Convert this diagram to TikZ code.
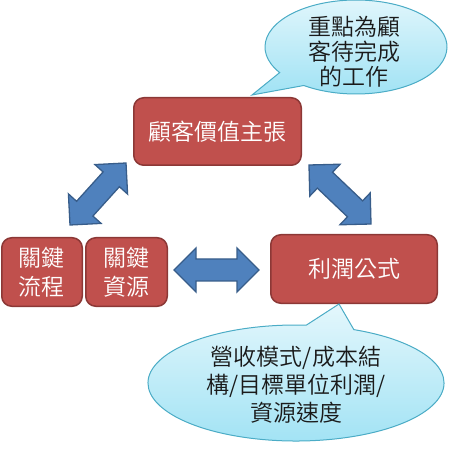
\documentclass[tikz,border=0pt]{standalone}
\usepackage{fontspec}
\newfontfamily\cjk{Noto Sans CJK TC DemiLight}
\usetikzlibrary{calc}
\definecolor{boxfill}{HTML}{C0504D}
\definecolor{boxline}{HTML}{8C3836}
\definecolor{arrfill}{HTML}{4F81BD}
\definecolor{arrline}{HTML}{385D8A}
\definecolor{calltop}{HTML}{E4F7FC}
\definecolor{callbot}{HTML}{9FE2F4}
\definecolor{callline}{HTML}{4BACC6}
\definecolor{calltext}{HTML}{1A1A1A}
\tikzset{
  redbox/.style={draw=boxline, fill=boxfill, line width=1.5pt, rounded corners=10pt,
    inner sep=0pt, text=white, align=center, font=\cjk\fontsize{23}{29}\selectfont},
  bluearrow/.style={draw=arrline, fill=arrfill, line width=1.3pt, line join=miter},
  callout/.style={draw=callline, line width=1pt, top color=calltop, bottom color=callbot},
  callshadow/.style={fill=black, opacity=0.12},
  calltxt/.style={text=calltext, align=center, inner sep=0pt},
}
\newcommand\mydoublearrow[2]{%
  \path let \p1=($(#2)-(#1)$) in \pgfextra{%
    \pgfmathsetmacro\dal{veclen(\x1,\y1)}%
    \pgfmathsetmacro\daa{atan2(\y1,\x1)}%
    \global\let\dalen\dal\global\let\daang\daa};
  \draw[bluearrow, shift={(#1)}, rotate=\daang]
    (0,0) -- (22,-22) -- (22,-11) -- (\dalen-22,-11) -- (\dalen-22,-22) -- (\dalen,0)
    -- (\dalen-22,22) -- (\dalen-22,11) -- (22,11) -- (22,22) -- cycle;}
\begin{document}
\begin{tikzpicture}[x=1pt,y=-1pt]
\useasboundingbox (0,0) rectangle (450,449);
% boxes
\node[redbox, minimum width=167.5pt, minimum height=67.5pt] (cvp) at (217.5,131.5) {顧客價值主張};
\node[redbox, minimum width=80.5pt, minimum height=68.5pt] (kp) at (42,272) {關鍵\\流程};
\node[redbox, minimum width=81.5pt, minimum height=68.5pt] (kr) at (126.5,272) {關鍵\\資源};
\node[redbox, minimum width=166.5pt, minimum height=68.5pt] (pf) at (354,269) {利潤公式};
% arrows
\coordinate (d1a) at (126,163); \coordinate (d1b) at (70,225);
\coordinate (d2a) at (309,165); \coordinate (d2b) at (371,224);
\coordinate (h1a) at (174,270); \coordinate (h1b) at (259,270);
\mydoublearrow{d1a}{d1b}
\mydoublearrow{d2a}{d2b}
\mydoublearrow{h1a}{h1b}
% top callout
\coordinate (c1) at (356,47); \coordinate (t1) at (252,95);
\begin{scope}[shift={(1.5,2.5)}]
\fill[callshadow] (t1) -- ($(c1)+(147:91 and 47)$) arc[start angle=147, end angle=485, x radius=91, y radius=47] -- cycle;
\end{scope}
\path[callout] (t1) -- ($(c1)+(147:91 and 47)$) arc[start angle=147, end angle=485, x radius=91, y radius=47] -- cycle;
\node[calltxt, font=\cjk\fontsize{23}{25}\selectfont] (n1) at (354,52) {重點為顧\\客待完成\\的工作};
% bottom callout
\coordinate (c2) at (296,383); \coordinate (t2) at (339,304);
\begin{scope}[shift={(1.5,2.5)}]
\fill[callshadow] (t2) -- ($(c2)+(-67:148 and 58)$) arc[start angle=-67, end angle=274, x radius=148, y radius=58] -- cycle;
\end{scope}
\path[callout] (t2) -- ($(c2)+(-67:148 and 58)$) arc[start angle=-67, end angle=274, x radius=148, y radius=58] -- cycle;
\node[calltxt, font=\cjk\fontsize{23}{28}\selectfont] (n2) at (296,385) {營收模式/成本結\\構/目標單位利潤/\\資源速度};
\end{tikzpicture}
\end{document}
